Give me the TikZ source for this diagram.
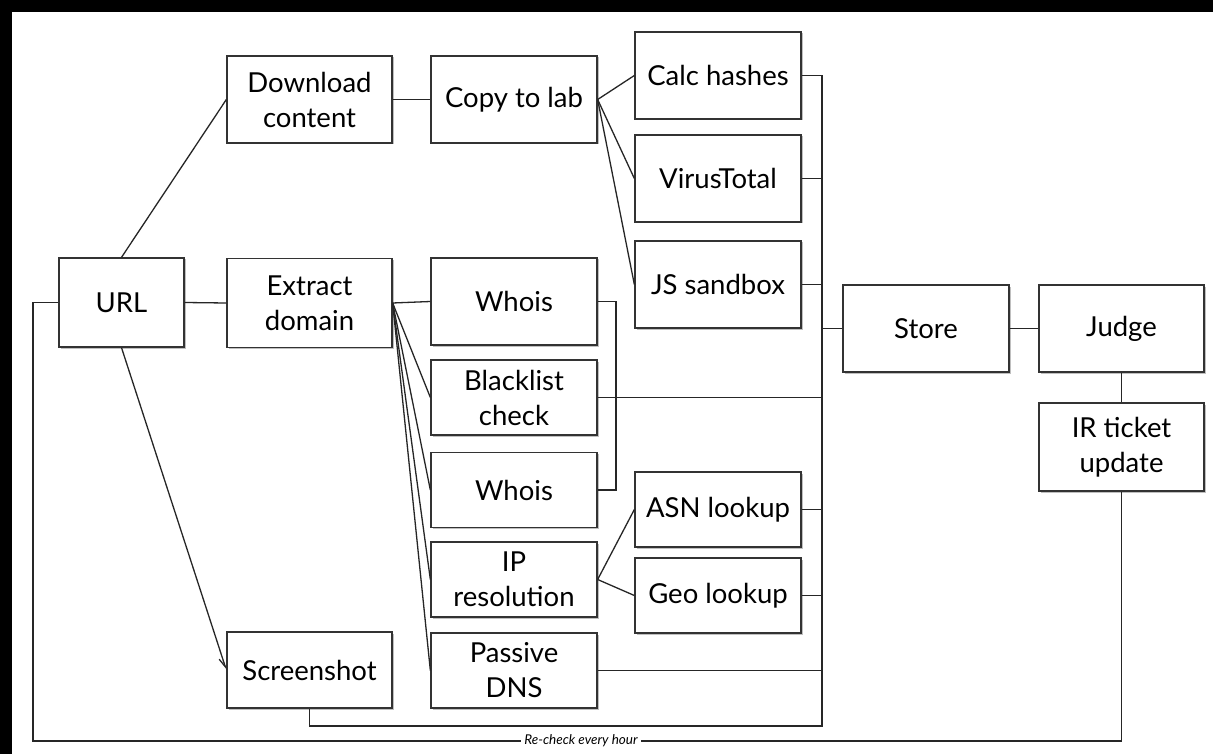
\documentclass[tikz,border=0pt]{standalone}
\usepackage{fontspec}
\setmainfont{Lato}
\usetikzlibrary{shadows,arrows.meta}
\begin{document}
\begin{tikzpicture}[x=1pt,y=-1pt,
  box/.style={draw=black!80, line width=1.3pt, fill=white, inner sep=0pt, align=center,
    font=\fontsize{27.5}{35}\selectfont,
    drop shadow={shadow xshift=1.5pt, shadow yshift=-1.5pt, fill=black, opacity=0.25}},
  conn/.style={draw=black!85, line width=1.3pt},
  lbl/.style={fill=white, inner xsep=3pt, inner ysep=1pt, font=\itshape\fontsize{13.5}{13.5}\selectfont}]
\useasboundingbox (0,0) rectangle (1213,754);
\fill[black] (0,0) rectangle (1213,754);
\fill[white] (12,12) rectangle (1213,754);

% nodes
\node[box, minimum width=125pt, minimum height=89pt] (url) at (121.5,302.5) {URL};
\node[box, minimum width=165pt, minimum height=87pt] (dl) at (309.5,99.5) {Download\\content};
\node[box, minimum width=165pt, minimum height=89pt] (ext) at (309.5,303) {Extract\\domain};
\node[box, minimum width=165pt, minimum height=76pt] (shot) at (309.5,670) {Screenshot};
\node[box, minimum width=166pt, minimum height=87pt] (copy) at (514,99.5) {Copy to lab};
\node[box, minimum width=166pt, minimum height=87pt] (calc) at (718,75.5) {Calc hashes};
\node[box, minimum width=166pt, minimum height=87pt] (vt) at (718,178.5) {VirusTotal};
\node[box, minimum width=166pt, minimum height=87pt] (js) at (718,284.5) {JS sandbox};
\node[box, minimum width=166pt, minimum height=87pt] (who1) at (514,301.5) {Whois};
\node[box, minimum width=166pt, minimum height=75pt] (bl) at (514,397.5) {Blacklist\\check};
\node[box, minimum width=166pt, minimum height=75pt] (who2) at (514,490) {Whois};
\node[box, minimum width=166pt, minimum height=75pt] (ip) at (514,579.5) {IP\\resolution};
\node[box, minimum width=166pt, minimum height=75pt] (pdns) at (514,670.5) {Passive\\DNS};
\node[box, minimum width=166pt, minimum height=75pt] (asn) at (718,509.5) {ASN lookup};
\node[box, minimum width=166pt, minimum height=75pt] (geo) at (718,595.5) {Geo lookup};
\node[box, minimum width=166pt, minimum height=87pt] (store) at (926,328.5) {Store};
\node[box, minimum width=165pt, minimum height=87pt] (judge) at (1121.5,328.5) {Judge};
\node[box, minimum width=165pt, minimum height=88pt] (ir) at (1121.5,447) {IR ticket\\update};

% helper coordinates
\coordinate (bus) at (822,0);
\coordinate (brk) at (616,0);
\coordinate (sloop) at (822,726);
\coordinate (loopc) at (33,741);

% connectors
\draw[conn] (url.north) -- (dl.west);
\draw[conn] (url.east) -- (ext.west);
\draw[conn, -{Straight Barb[right, length=9pt, width=7pt]}] (url.south) -- (shot.west);
\draw[conn] (dl.east) -- (copy.west);
\draw[conn] (copy.east) -- (calc.west);
\draw[conn] (copy.east) -- (vt.west);
\draw[conn] (copy.east) -- (js.west);
\draw[conn] (ext.east) -- (who1.west);
\draw[conn] (ext.east) -- (bl.west);
\draw[conn] (ext.east) -- (who2.west);
\draw[conn] (ext.east) -- (ip.west);
\draw[conn] (ext.east) -- (pdns.west);
\draw[conn] (who1.east) -- (who1.east -| brk) -- (who2.east -| brk) -- (who2.east);
\draw[conn] (ip.east) -- (asn.west);
\draw[conn] (ip.east) -- (geo.west);
\draw[conn] (shot.south) -- (shot.south |- sloop) -- (sloop) -- (calc.east -| bus) -- (calc.east);
\draw[conn] (vt.east) -- (vt.east -| bus);
\draw[conn] (js.east) -- (js.east -| bus);
\draw[conn] (bl.east) -- (bl.east -| bus);
\draw[conn] (asn.east) -- (asn.east -| bus);
\draw[conn] (geo.east) -- (geo.east -| bus);
\draw[conn] (pdns.east) -- (pdns.east -| bus);
\draw[conn] (store.west -| bus) -- (store.west);
\draw[conn] (store.east) -- (judge.west);
\draw[conn] (judge.south) -- (ir.north);
\draw[conn] (ir.south) |- (loopc) |- (url.west);
\node[lbl] (recheck) at (581,741) {Re-check every hour};
\end{tikzpicture}
\end{document}
